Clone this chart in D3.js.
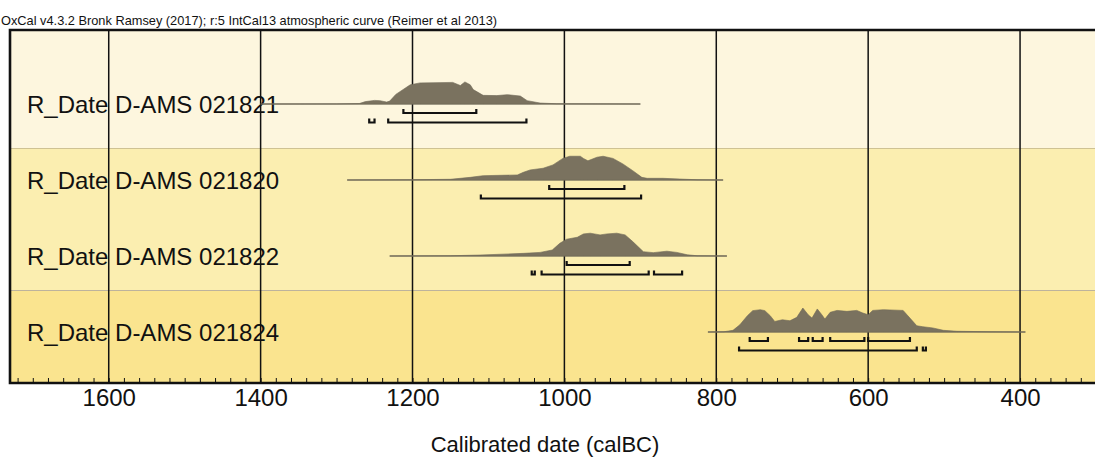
<!DOCTYPE html>
<html>
<head>
<meta charset="utf-8">
<script src="https://cdn.jsdelivr.net/npm/d3@7/dist/d3.min.js"></script>
<style>
    body { margin: 0; background: #ffffff; }
    text { font-family: "Liberation Sans", Arial, sans-serif; fill: #111111; }
</style>
</head>
<body>
<div id="chart"></div>
<script>
var names = ['R_Date D-AMS 021821', 'R_Date D-AMS 021820', 'R_Date D-AMS 021822', 'R_Date D-AMS 021824'];

// probability curves: [year calBC, relative probability]
var prob021821 = [
    [1400, 0], [1300, 0.005], [1270, 0.02], [1262, 0.1], [1250, 0.15], [1243, 0.14], [1234, 0.08],
    [1230, 0.12], [1222, 0.4], [1203, 0.8], [1190, 0.88], [1147, 0.9], [1137, 0.77], [1131, 0.92],
    [1124, 0.8], [1120, 0.6], [1107, 0.36], [1089, 0.35], [1075, 0.39], [1058, 0.33], [1049, 0.14],
    [1032, 0.04], [1010, 0.01], [900, 0]
];
var prob021820 = [
    [1286, 0], [1200, 0.01], [1150, 0.03], [1124, 0.11], [1107, 0.18], [1062, 0.21], [1054, 0.32],
    [1045, 0.42], [1028, 0.49], [1015, 0.63], [1002, 0.9], [993, 0.99], [979, 0.99], [975, 0.9],
    [969, 0.8], [957, 0.95], [949, 0.99], [936, 0.9], [923, 0.67], [910, 0.39], [898, 0.11],
    [891, 0.07], [870, 0.07], [848, 0.04], [825, 0.01], [791, 0]
];
var prob021822 = [
    [1230, 0], [1150, 0.01], [1111, 0.04], [1054, 0.11], [1032, 0.15], [1016, 0.25], [1006, 0.53],
    [997, 0.7], [983, 0.78], [975, 0.92], [966, 0.95], [953, 0.88], [944, 0.92], [931, 0.95],
    [920, 0.88], [910, 0.6], [896, 0.18], [883, 0.14], [865, 0.2], [852, 0.15], [838, 0.05],
    [825, 0.01], [786, 0]
];
var prob021824 = [
    [811, 0], [790, 0.01], [778, 0.07], [769, 0.3], [759, 0.68], [752, 0.89], [742, 0.93],
    [736, 0.89], [729, 0.68], [723, 0.44], [713, 0.51], [703, 0.47], [694, 0.61], [686, 1.0],
    [679, 0.72], [674, 0.58], [667, 0.96], [661, 0.72], [657, 0.54], [650, 0.82], [641, 0.9],
    [628, 0.86], [615, 0.9], [607, 0.79], [600, 0.72], [594, 0.9], [580, 0.93], [554, 0.9],
    [545, 0.58], [536, 0.26], [528, 0.22], [515, 0.17], [501, 0.07], [483, 0.03], [440, 0.01],
    [393, 0]
];
var curves = [prob021821, prob021820, prob021822, prob021824];

// 68.2% and 95.4% ranges (from, to) calBC
var range68 = [
    [[1212, 1116]],
    [[1020, 921]],
    [[997, 914]],
    [[756, 732], [691, 679], [673, 660], [650, 605], [600, 545]]
];
var range95 = [
    [[1257, 1250], [1232, 1050]],
    [[1110, 899]],
    [[1043, 1039], [1030, 889], [882, 845]],
    [[770, 536], [528, 524]]
];

var majorTicks = [1600, 1400, 1200, 1000, 800, 600, 400];
var minorTicks = d3.range(300, 1731, 20);

var width = 1095,
    height = 457,
    plotLeft = 10,
    plotRight = 1096,
    plotTop = 30,
    plotBottom = 383,
    bandColors = ['#fdf6de', '#fbeeb0', '#fbeeb0', '#fae48f'],
    bandEdges = [plotTop, 148, 219, 290, plotBottom]
;

var svg = d3.select('#chart')
    .append('svg')
    .attr('width', width)
    .attr('height', height)
;

var x = d3.scaleLinear()
    .domain([1730, 300])
    .range([plotLeft, plotRight])
;

var rowY = d3.scalePoint()
    .domain(names)
    .range([104, 332])
;

var h = d3.scaleLinear()
    .domain([0, 1])
    .range([0, 24])
;

svg.append('text')
    .attr('x', 1)
    .attr('y', 25)
    .attr('textLength', 496)
    .attr('lengthAdjust', 'spacingAndGlyphs')
    .style('font-size', '13.5px')
    .text('OxCal v4.3.2 Bronk Ramsey (2017); r:5 IntCal13 atmospheric curve (Reimer et al 2013)')
;

// background bands
svg.selectAll('rect.band')
    .data(bandColors)
    .enter()
    .append('rect')
    .attr('class', 'band')
    .attr('x', plotLeft)
    .attr('width', plotRight - plotLeft)
    .attr('y', function(d, i) { return bandEdges[i]; })
    .attr('height', function(d, i) { return bandEdges[i + 1] - bandEdges[i]; })
    .style('fill', function(d) { return d; })
;

svg.selectAll('line.sep')
    .data([148, 290])
    .enter()
    .append('line')
    .attr('x1', plotLeft)
    .attr('x2', plotRight)
    .attr('y1', function(d) { return d + 0.5; })
    .attr('y2', function(d) { return d + 0.5; })
    .style('stroke', function(d, i) { return i == 0 ? '#cfc293' : '#bdb39c'; })
    .style('stroke-width', 1.2)
;

// row labels
svg.selectAll('text.name')
    .data(names)
    .enter()
    .append('text')
    .attr('class', 'name')
    .attr('x', 27)
    .attr('y', function(d) { return rowY(d) + 9; })
    .style('font-size', '24px')
    .text(function(d) { return d; })
;

// grid lines
svg.selectAll('line.grid')
    .data(majorTicks)
    .enter()
    .append('line')
    .attr('x1', function(d) { return x(d); })
    .attr('x2', function(d) { return x(d); })
    .attr('y1', plotTop)
    .attr('y2', plotBottom)
    .style('stroke', '#111111')
    .style('stroke-width', 1.5)
;

var area = d3.area()
    .x(function(d) { return x(d[0]); })
    .y1(function(d) { return -h(d[1]); })
    .y0(0)
;

var rows = svg.selectAll('g.row')
    .data(names)
    .enter()
    .append('g')
    .attr('class', 'row')
    .attr('transform', function(d) { return 'translate(0,' + rowY(d) + ')'; })
;

rows.append('line')
    .attr('x1', function(d, i) { return x(curves[i][0][0]); })
    .attr('x2', function(d, i) { return x(curves[i][curves[i].length - 1][0]); })
    .attr('y1', 0)
    .attr('y2', 0)
    .style('stroke', '#6f6857')
    .style('stroke-width', 1)
;

rows.append('path')
    .attr('d', function(d, i) { return area(curves[i]); })
    .style('fill', '#7a725f')
    .style('stroke', '#6f6857')
    .style('stroke-width', 0.6)
;

function bracket(r, dy) {
    return 'M' + x(r[0]) + ',' + (dy - 4) + 'V' + dy + 'H' + x(r[1]) + 'V' + (dy - 4);
}

rows.selectAll('path.r68')
    .data(function(d, i) { return range68[i]; })
    .enter()
    .append('path')
    .attr('class', 'r68')
    .attr('d', function(r) { return bracket(r, 9); })
    .style('fill', 'none')
    .style('stroke', '#111111')
    .style('stroke-width', 2.2)
;

rows.selectAll('path.r95')
    .data(function(d, i) { return range95[i]; })
    .enter()
    .append('path')
    .attr('class', 'r95')
    .attr('d', function(r) { return bracket(r, 18.5); })
    .style('fill', 'none')
    .style('stroke', '#111111')
    .style('stroke-width', 2.2)
;

// frame
svg.append('path')
    .attr('d', 'M' + plotRight + ',' + plotTop + 'H' + plotLeft + 'V' + plotBottom + 'H' + plotRight)
    .style('fill', 'none')
    .style('stroke', '#111111')
    .style('stroke-width', 2.6)
;

// minor ticks pointing up from the bottom edge
var minorAxis = svg.append('g')
    .attr('transform', 'translate(0,' + plotBottom + ')')
    .call(d3.axisTop(x).tickValues(minorTicks).tickSize(5).tickFormat(''))
;
minorAxis.select('.domain').remove();
minorAxis.selectAll('line').style('stroke', '#111111').style('stroke-width', 1);

var labelAxis = svg.append('g')
    .attr('transform', 'translate(0,' + plotBottom + ')')
    .call(d3.axisBottom(x).tickValues(majorTicks).tickSize(0).tickPadding(6).tickFormat(d3.format('d')))
;
labelAxis.select('.domain').remove();
labelAxis.selectAll('text')
    .style('font-size', '24px')
    .style('font-family', '"Liberation Sans", Arial, sans-serif')
    .style('fill', '#111111')
;

svg.append('text')
    .attr('x', 545)
    .attr('y', 452)
    .attr('text-anchor', 'middle')
    .style('font-size', '22px')
    .text('Calibrated date (calBC)')
;
</script>
</body>
</html>
